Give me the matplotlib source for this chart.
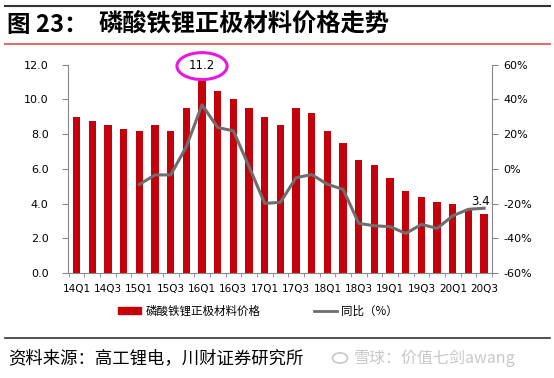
import matplotlib
matplotlib.use("Agg")
import matplotlib.pyplot as plt
from matplotlib.patches import Ellipse, Circle
from matplotlib.lines import Line2D
import numpy as np

plt.rcParams['font.family'] = ['Noto Sans CJK SC', 'DejaVu Sans']

quarters = ['14Q1', '14Q2', '14Q3', '14Q4', '15Q1', '15Q2', '15Q3', '15Q4',
            '16Q1', '16Q2', '16Q3', '16Q4', '17Q1', '17Q2', '17Q3', '17Q4',
            '18Q1', '18Q2', '18Q3', '18Q4', '19Q1', '19Q2', '19Q3', '19Q4',
            '20Q1', '20Q2', '20Q3']
price = [9.0, 8.75, 8.5, 8.3, 8.2, 8.5, 8.2, 9.5,
         11.2, 10.5, 10.0, 9.5, 9.0, 8.5, 9.5, 9.2,
         8.2, 7.5, 6.5, 6.2, 5.5, 4.7, 4.4, 4.1,
         4.0, 3.7, 3.4]
yoy = [None, None, None, None, -9, -3.5, -3.5, 12.8,
       36.9, 23.8, 21.9, 1.3, -19.9, -19.3, -5.1, -3.3,
       -8.9, -11.8, -31.4, -32.8, -33.3, -37.2, -32.0, -34.3,
       -27.0, -23.3, -22.7]
left_ticks = [0, 2, 4, 6, 8, 10, 12]
right_ticks = [-60, -40, -20, 0, 20, 40, 60]
bar_label = '磷酸铁锂正极材料价格'
line_label = '同比（%）'

W, H = 554, 378
fig = plt.figure(figsize=(W / 100, H / 100), dpi=100)
ax = fig.add_axes([68 / W, 1 - 273 / H, (492 - 68) / W, (273 - 64.7) / H])
x = np.arange(len(quarters))
bar_color = '#C4000B'
ax.bar(x, price, width=0.47, color=bar_color, zorder=2)
ax.set_xlim(-0.55, len(quarters) - 0.55)
ax.set_ylim(0, 12)
ax.set_yticks(left_ticks)
ax.set_yticklabels([f'{v:.1f}' for v in left_ticks], fontsize=8, family='DejaVu Sans')
ax.set_xticks(x[::2])
ax.set_xticklabels(quarters[::2], fontsize=7.5, family='DejaVu Sans')
ax.set_xticks(np.arange(len(quarters) + 1) - 0.5, minor=True)
ax.tick_params(axis='x', which='major', length=0, pad=8)
ax.tick_params(axis='x', which='minor', length=3, direction='out', color='#888888')
ax.tick_params(axis='y', length=4, color='#888888', pad=10)
for s in ['top', 'right']:
    ax.spines[s].set_visible(False)
for s in ['left', 'bottom']:
    ax.spines[s].set_color('#888888')

ax2 = ax.twinx()
ax2.set_ylim(-60, 60)
ax2.set_yticks(right_ticks)
ax2.set_yticklabels([f'{v}%' for v in right_ticks], fontsize=8, family='DejaVu Sans')
ax2.tick_params(axis='y', length=4, color='#888888', pad=4)
for s in ['top', 'left', 'bottom']:
    ax2.spines[s].set_visible(False)
ax2.spines['right'].set_color('#888888')
xs = [i for i, v in enumerate(yoy) if v is not None]
ys = [v for v in yoy if v is not None]
line_color = '#6E6E6E'
ax2.plot(xs, ys, color=line_color, lw=2.2, zorder=3)

# annotations
peak = int(np.argmax(price))
ax.text(peak, price[peak] + 0.75, f'{price[peak]:.1f}', ha='center', va='center',
        fontsize=8.5, family='DejaVu Sans')
ax.add_patch(Ellipse((peak, price[peak] + 0.72), width=3.2, height=1.55,
                     fill=False, edgecolor='#E818E0', lw=2.2, clip_on=False, zorder=5))
ax.text(len(price) - 1.25, price[-1] + 0.7, f'{price[-1]:.1f}', ha='center', va='center',
        fontsize=8.5, family='DejaVu Sans', zorder=6)

# legend
handles = [plt.Rectangle((0, 0), 1, 1, color=bar_color),
           Line2D([0], [0], color=line_color, lw=2)]
fig.legend(handles, [bar_label, line_label], loc='center', ncol=2,
           bbox_to_anchor=(258 / W, 1 - 311 / H), frameon=False, fontsize=8.3,
           handlelength=2.0, handleheight=0.6, columnspacing=4.6, handletextpad=0.4)

# title & decorations
fig.add_artist(Line2D([5 / W, 550 / W], [1 - 6 / H, 1 - 6 / H], color='#333333', lw=1.5))
fig.add_artist(Line2D([5 / W, 550 / W], [1 - 43.5 / H, 1 - 43.5 / H], color='#E07070', lw=1.5))
fig.add_artist(Line2D([5 / W, 550 / W], [1 - 338 / H, 1 - 338 / H], color='#333333', lw=1.2))
fig.text(7 / W, 1 - 32 / H, '图 23：', fontsize=17,
         fontweight='bold', va='baseline', ha='left')
fig.text(99 / W, 1 - 32 / H, '磷酸铁锂正极材料价格走势', fontsize=17.5,
         fontweight='bold', va='baseline', ha='left')
fig.text(8 / W, 1 - 358 / H, '资料来源：高工锂电，川财证券研究所', fontsize=12.5,
         style='italic', va='center', ha='left')
fig.add_artist(Circle((340 / W, 1 - 358 / H), 7.5 / W, transform=fig.transFigure,
                      fill=False, edgecolor='#C8C8C8', lw=1.2))
fig.text(354 / W, 1 - 358 / H, '雪球：价值七剑awang', fontsize=11.5,
         color='#C8C8C8', va='center', ha='left')

fig.savefig('out.png', dpi=100)
